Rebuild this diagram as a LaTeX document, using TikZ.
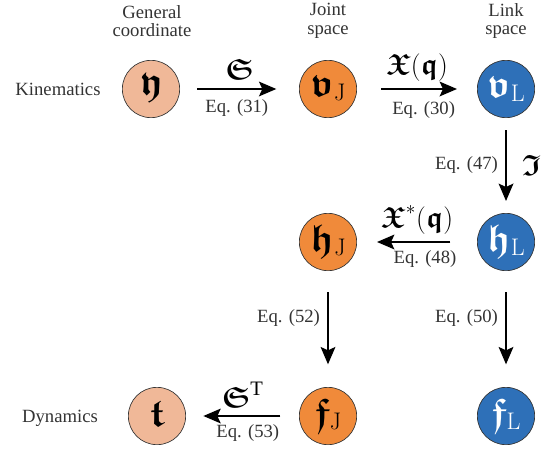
\documentclass[tikz,border=0pt]{standalone}
\usepackage{amsmath,amssymb}
\usepackage{fontspec}
\setmainfont{Liberation Serif}
\newfontfamily\lmfont{Latin Modern Roman}
\usepackage{tikz}
\usetikzlibrary{arrows.meta,positioning}
\usepackage{xcolor}
\definecolor{peach}{HTML}{F0B898}
\definecolor{jointorange}{HTML}{F08A3A}
\definecolor{linkblue}{HTML}{2E70B8}
\definecolor{labelgray}{HTML}{333333}
\newcommand{\fk}[1]{\boldsymbol{\mathfrak{#1}}}
% big state symbol with optional subscript
\newcommand{\stsym}[2]{{\fontsize{29}{31}\selectfont$\fk{#1}$}\raisebox{-3pt}{\lmfont\fontsize{18}{18}\selectfont #2}}

\begin{document}
\begin{tikzpicture}[x=0.75pt, y=0.75pt, >={Stealth[length=13pt,width=11pt,inset=2.5pt]},
    state/.style={circle, draw=black!80, line width=0.5pt, minimum size=43pt, inner sep=0pt},
    arr/.style={->, line width=1.5pt},
    eqlabel/.style={font=\fontsize{14}{16}\selectfont, text=labelgray},
    oplabel/.style={font=\fontsize{22}{26}\selectfont},
    head/.style={font=\fontsize{14}{14}\selectfont, text=labelgray, align=center}]
  \useasboundingbox (0,0) rectangle (545,-450);

  % column headings and row labels
  \node[head] (hgen) at (152,-21) {General\\coordinate};
  \node[head] (hjoint) at (328,-21) {Joint\\space};
  \node[head] (hlink) at (506,-21) {Link\\space};
  \node[head] (kin) at (58,-89) {Kinematics};
  \node[head] (dyn) at (60,-418) {Dynamics};

  % states
  \node[state, fill=peach] (yG) at (151,-89) {\stsym{y}{}};
  \node[state, fill=jointorange] (vJ) at (328,-89) {\stsym{v}{J}};
  \node[state, fill=linkblue, text=white] (vL) at (506,-89) {\stsym{v}{L}};
  \node[state, fill=jointorange] (hJ) at (328,-242) {\stsym{h}{J}};
  \node[state, fill=linkblue, text=white] (hL) at (506,-242) {\stsym{h}{L}};
  \node[state, fill=peach] (tG) at (157,-416) {\stsym{t}{}};
  \node[state, fill=jointorange] (fJ) at (328,-416) {\stsym{f}{J}};
  \node[state, fill=linkblue, text=white] (fL) at (506,-416) {\stsym{f}{L}};

  % kinematics
  \draw[arr, shorten <=13pt, shorten >=17pt] (yG) -- node[above=3pt, oplabel] {$\fk{S}$} node[below=4pt, eqlabel, xshift=-2pt] {Eq. (31)} (vJ);
  \draw[arr, shorten <=18pt, shorten >=15pt] (vJ) -- node[above=2pt, oplabel] {$\fk{X}(\fk{q})$} node[below=5pt, eqlabel, xshift=5pt] {Eq. (30)} (vL);
  \draw[arr, shorten <=9pt, shorten >=9pt] (vL) -- node[right=8pt, oplabel] {$\fk{I}$} node[left=2pt, eqlabel] {Eq. (47)} (hL);
  \draw[arr, shorten <=20pt, shorten >=15pt] (hL) -- node[above=2pt, oplabel] {$\fk{X}^{*}(\fk{q})$} node[below=2pt, eqlabel, xshift=6pt] {Eq. (48)} (hJ);

  % dynamics
  \draw[arr, shorten <=16pt, shorten >=17pt] (hJ) -- node[left=2pt, eqlabel, yshift=8pt] {Eq. (52)} (fJ);
  \draw[arr, shorten <=16pt, shorten >=17pt] (hL) -- node[left=2pt, eqlabel, yshift=8pt] {Eq. (50)} (fL);
  \draw[arr, shorten <=14pt, shorten >=13pt] (fJ) -- node[above=2pt, oplabel] {$\fk{S}^{\mathrm{T}}$} node[below=2pt, eqlabel, xshift=4pt] {Eq. (53)} (tG);
\end{tikzpicture}
\end{document}
